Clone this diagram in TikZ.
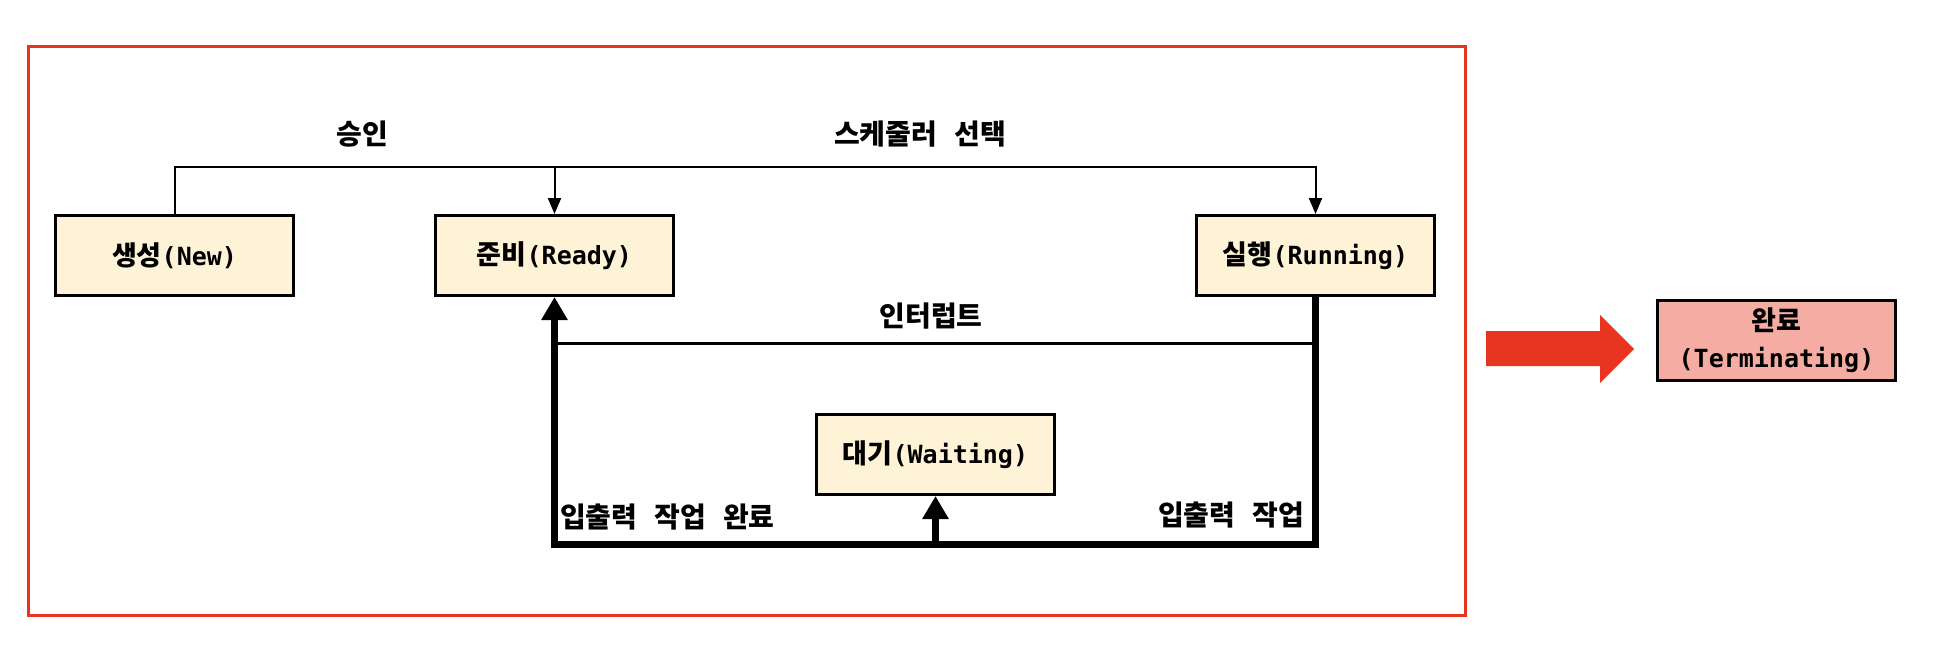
\documentclass[tikz,border=0pt]{standalone}
\usepackage{fontspec}
\setmonofont{DejaVu Sans Mono}
\newfontfamily\krfont{Noto Sans CJK KR}
\usetikzlibrary{arrows.meta}

\definecolor{boxfill}{HTML}{FEF3D6}
\definecolor{termfill}{HTML}{F5ADA3}
\definecolor{framered}{HTML}{E8351F}

\newcommand{\kr}[1]{{\fontsize{27}{37}\selectfont\krfont\bfseries #1}}
\newcommand{\en}[1]{{\ttfamily\bfseries #1}}
\newcommand{\lblfont}{\fontsize{28}{30}\selectfont\krfont\bfseries
  \setlength{\spaceskip}{17pt}}

\tikzset{
  procbox/.style={draw, line width=3pt, fill=boxfill, minimum width=238pt,
    minimum height=80pt, inner sep=0pt, align=center,
    font=\fontsize{25}{37}\selectfont},
  edgelbl/.style={inner sep=0pt, font=\lblfont},
  thinline/.style={line width=2pt, -{Triangle[width=13pt,length=16pt]}},
  ioline/.style={line width=7pt, -{Triangle[width=25pt,length=23pt]}},
}

\begin{document}
\begin{tikzpicture}[x=1pt,y=-1pt]
        \useasboundingbox (0,0) rectangle (1934,649);
        \draw[framered, line width=3pt] (28,46) rectangle (1465,615);
        % states
        \node[procbox] (new) at (174.5,255.5) {\kr{생성}\en{(New)}};
        \node[procbox] (ready) at (554.5,255.5) {\kr{준비}\en{(Ready)}};
        \node[procbox] (running) at (1315.5,255.5) {\kr{실행}\en{(Running)}};
        \node[procbox] (waiting) at (935.5,454.5) {\kr{대기}\en{(Waiting)}};
        \node[procbox, fill=termfill] (term) at (1776.5,340) {\kr{완료}\\\en{(Terminating)}};
        % transitions
        \coordinate (top) at (0,167);
        \coordinate (intr) at (0,343);
        \coordinate (io) at (0,544);
        \draw[thinline] (new.north) -- (new.north |- top) -| (running.north);
        \draw[thinline] (ready.north |- top) -- (ready.north);
        \draw[line width=3pt] (running.south |- intr) -- (ready.south |- intr);
        \draw[ioline] (running.south) -- (running.south |- io) -| (ready.south);
        \draw[ioline] (waiting.south |- io) -- (waiting.south);
        \fill[framered] (1486,331) -- (1600,331) -- (1600,315) -- (1634,349)
          -- (1600,383) -- (1600,366) -- (1486,366) -- cycle;
        % labels
        \node[edgelbl] (lblok) at (362,134) {승인};
        \node[edgelbl] (lblsched) at (920,134) {스케줄러 선택};
        \node[edgelbl] (lblintr) at (931,316) {인터럽트};
        \node[edgelbl, anchor=west] (lbldone) at (560,517) {입출력 작업 완료};
        \node[edgelbl, anchor=east] (lblio) at (1304,515) {입출력 작업};
      \end{tikzpicture}
\end{document}
